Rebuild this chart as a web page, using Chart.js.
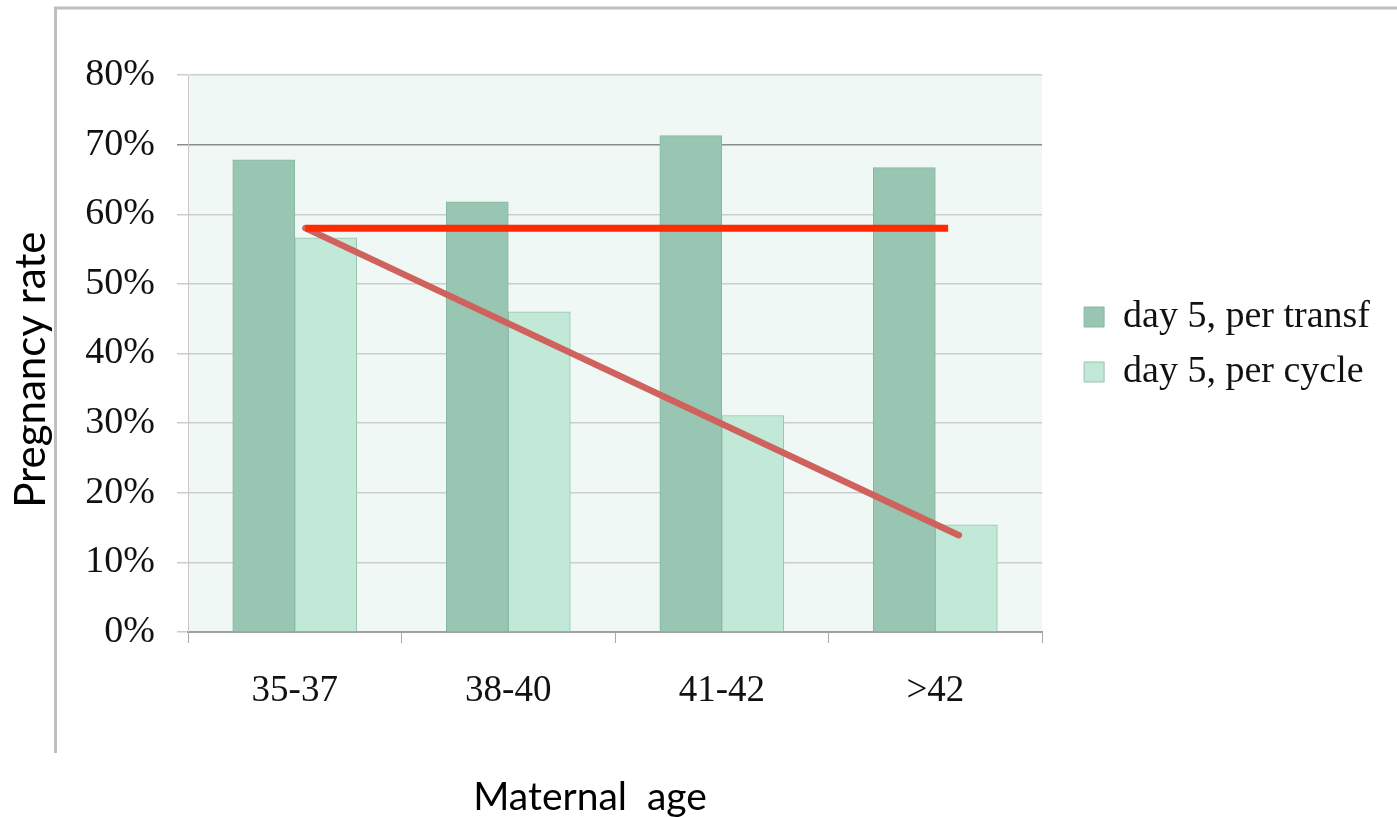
<!DOCTYPE html>
<html>
<head>
<meta charset="utf-8">
<script src="https://cdn.jsdelivr.net/npm/chart.js@4.4.1/dist/chart.umd.min.js"></script>
<style>
  html, body { margin: 0; padding: 0; background: #ffffff; overflow: hidden; }
  #wrap { position: relative; width: 1397px; height: 817px; }
</style>
</head>
<body>
<div id="wrap"><canvas id="c"></canvas></div>
<script>
// ---- data ----
const categories = ['35-37', '38-40', '41-42', '>42'];
const perTransfer = [67.8, 61.8, 71.3, 66.7];
const perCycle = [56.6, 46.0, 31.1, 15.4];
const seriesNames = ['day 5, per transf', 'day 5, per cycle'];
const yTickLabels = ['0%', '10%', '20%', '30%', '40%', '50%', '60%', '70%', '80%'];
// hand-drawn trend lines (x in category units 0..4, y in %)
const flatLineX = [0.55, 3.56];
const flatLineY = [58, 58];
const slopeLineX = [0.55, 3.61];
const slopeLineY = [58, 13.9];

const serif = "'Liberation Serif', 'Times New Roman', serif";
const sans = "Lato, 'Liberation Sans', sans-serif";

const bgPlugin = {
  id: 'bgFrame',
  beforeDraw(chart) {
    const { ctx, chartArea: a } = chart;
    ctx.save();
    ctx.fillStyle = '#eff8f4';
    ctx.fillRect(a.left, a.top, a.right - a.left, a.bottom - a.top);
    ctx.strokeStyle = '#bfbfbf';
    ctx.lineWidth = 3;
    ctx.beginPath();
    ctx.moveTo(55.5, 753);
    ctx.lineTo(55.5, 8);
    ctx.lineTo(1397, 8);
    ctx.stroke();
    ctx.restore();
  }
};

const toPts = (xs, ys) => xs.map((x, i) => ({ x: x, y: ys[i] }));

new Chart(document.getElementById('c'), {
  type: 'bar',
  data: {
    labels: categories,
    datasets: [
      {
        type: 'line', label: 'trend flat', data: toPts(flatLineX, flatLineY),
        xAxisID: 'xl', yAxisID: 'y', borderColor: '#ff2a00', borderWidth: 7,
        borderCapStyle: 'butt', pointRadius: 0, fill: false, order: 0
      },
      {
        type: 'line', label: 'trend slope', data: toPts(slopeLineX, slopeLineY),
        xAxisID: 'xl', yAxisID: 'y', borderColor: '#cf625c', borderWidth: 6.5,
        borderCapStyle: 'round', pointRadius: 0, fill: false, order: 1
      },
      {
        type: 'bar', label: seriesNames[0], data: perTransfer, xAxisID: 'x', yAxisID: 'y',
        backgroundColor: '#98c6b2', borderColor: '#86b7a1', borderWidth: 1,
        barThickness: 62, order: 2
      },
      {
        type: 'bar', label: seriesNames[1], data: perCycle, xAxisID: 'x', yAxisID: 'y',
        backgroundColor: '#c2e8d8', borderColor: '#97c2ae', borderWidth: 1,
        barThickness: 62, order: 2
      }
    ]
  },
  options: {
    responsive: true,
    maintainAspectRatio: false,
    animation: false,
    layout: { padding: { left: 0, top: 75, right: 17, bottom: 0 } },
    plugins: {
      tooltip: { enabled: false },
      legend: {
        position: 'right',
        fullSize: false,
        maxWidth: 420,
        align: 'start',
        title: { display: true, text: '', font: { size: 10, lineHeight: 1 }, padding: { top: 196, bottom: 0 } },
        labels: {
          filter: (item) => seriesNames.includes(item.text),
          boxWidth: 20, boxHeight: 20, padding: 17,
          color: '#111', font: { family: serif, size: 38 }
        }
      }
    },
    scales: {
      x: {
        type: 'category', position: 'bottom',
        grid: { display: true, drawOnChartArea: false, drawTicks: true, tickLength: 11, offset: true, color: '#a8a8a8', lineWidth: 1 },
        border: { display: true, color: '#a0a0a0', width: 2 },
        ticks: { color: '#111', font: { family: serif, size: 37 }, padding: 26, maxRotation: 0 },
        title: { display: true, text: 'Maternal  age     ', color: '#000', font: { family: sans, size: 39, lineHeight: 1 }, padding: { top: 0, bottom: 0 } },
        afterFit(s) { s.height = 185; }
      },
      xl: { type: 'linear', display: false, offset: false, min: 0, max: 4 },
      y: {
        type: 'linear', position: 'left', min: 0, max: 80,
        ticks: { stepSize: 10, color: '#111', font: { family: serif, size: 38 }, padding: 22,
                 callback: (v, i) => yTickLabels[i] },
        grid: {
          drawTicks: true, tickLength: 11, lineWidth: 1.5,
          color: (ctx) => (ctx.index === 7 ? '#8c8c8c' : '#cdcdcd')
        },
        border: { display: true, color: '#c8c8c8', width: 1 },
        title: { display: true, text: 'Pregnancy rate   ', color: '#000', font: { family: sans, size: 42, lineHeight: 1 }, padding: { top: 10, bottom: 0 } },
        afterFit(s) { s.width = 188; }
      },
      yPad: {
        type: 'linear', position: 'right', display: true,
        grid: { display: false }, border: { display: false }, ticks: { display: false },
        afterFit(s) { s.width = 25; }
      }
    }
  },
  plugins: [bgPlugin]
});
</script>
</body>
</html>
